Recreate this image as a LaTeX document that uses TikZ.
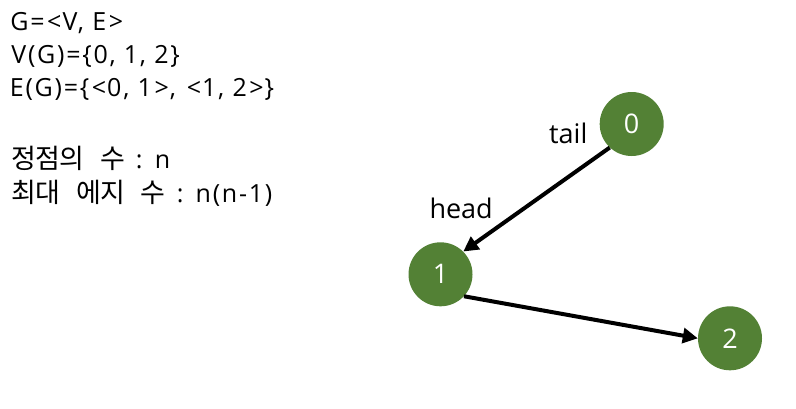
\documentclass[tikz,border=0pt]{standalone}
\usepackage{fontspec}
\setmainfont{Open Sans}
\newfontfamily\spaced[LetterSpace=7]{Open Sans}
\newfontfamily\krfont[LetterSpace=-3]{Noto Sans CJK KR}
\usetikzlibrary{arrows.meta}
\definecolor{vgreen}{HTML}{538135}
\tikzset{
  vertex/.style={circle,fill=vgreen,draw=none,minimum size=64pt,inner sep=0pt,text=white,font=\fontsize{27}{30}\selectfont},
  edge/.style={line width=4pt,draw=black,-{Triangle[length=15pt,width=15pt]}},
  txt/.style={anchor=base west,inner sep=0pt,font=\fontsize{25}{29}\spaced},
  lbl/.style={anchor=base west,inner sep=0pt,font=\fontsize{27}{30}\selectfont}
}
\newcommand{\kr}[1]{{\fontsize{27}{30}\krfont #1}}
\newcommand{\ltb}{\kern2.6pt<\kern1pt}
\newcommand{\gtb}{\kern2.6pt>\kern1pt}
\begin{document}
\begin{tikzpicture}[x=1pt,y=-1pt]
\useasboundingbox (0,0) rectangle (796,408);
\node[txt] (l1) at (10.2,30) {G=\ltb V, E\gtb};
\node[txt] (l2) at (11.2,63.5) {V(G)=\{0, 1, 2\}};
\node[txt] (l3) at (9.7,96.5) {E(G)=\{\ltb 0, 1\gtb, \ltb 1, 2\gtb\}};
\node[txt] (l4) at (11,168) {\kr{정점의}\kern16pt\kr{수}\kern11pt:\kern12.3pt n};
\node[txt] (l5) at (11,202) {\kr{최대}\kern16pt\kr{에지}\kern16pt\kr{수}\kern11pt:\kern12.3pt n(n-1)};
\node[vertex] (n0) at (631.7,124) {0};
\node[vertex] (n1) at (440.5,274.3) {1};
\node[vertex] (n2) at (730,338.3) {2};
\node[lbl] (tail) at (549,143.3) {tail};
\node[lbl] (head) at (429.3,218.3) {head};
\draw[edge] (n0.227) -- (n1.45);
\draw[edge] (n1.-43) -- (n2.180);
\end{tikzpicture}
\end{document}
